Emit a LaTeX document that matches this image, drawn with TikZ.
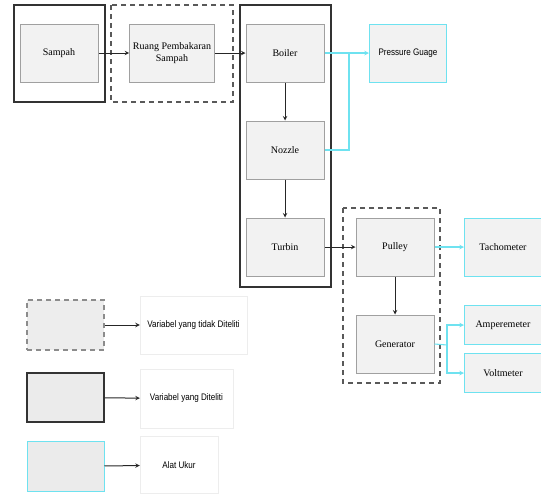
\documentclass[tikz,border=0pt]{standalone}
\usepackage{fontspec}
\setmainfont{Liberation Serif}
\newfontfamily\ketfont[FakeStretch=0.85]{Liberation Sans}
\usetikzlibrary{shapes.geometric, arrows}
\definecolor{ukur}{RGB}{110,226,240}
\definecolor{garis}{RGB}{160,160,160}
\definecolor{isi}{RGB}{242,242,242}
\tikzstyle{proses} = [rectangle, minimum width=78pt, minimum height=58pt, text centered, draw=garis, fill=isi, line width=1pt, font=\fontsize{10}{12}\selectfont]
\tikzstyle{alat} = [rectangle, minimum width=77pt, text centered, draw=ukur, fill=isi, line width=1pt, font=\fontsize{10}{12}\selectfont]
\tikzstyle{diteliti} = [draw=black!80, line width=1.6pt]
\tikzstyle{tidak} = [draw=black!65, line width=1.4pt, dash pattern=on 5pt off 4pt]
\tikzstyle{ket} = [rectangle, draw=black!7, text centered, font=\ketfont\fontsize{9.5}{11}\selectfont]
\tikzstyle{arrow} = [line width=1pt,->,>=stealth, black!85]
\tikzstyle{ukurarrow} = [line width=1.1pt,->,>=stealth, ukur]
\tikzstyle{ukurline} = [line width=1.1pt, ukur]

\begin{document}
\begin{tikzpicture}[x=1pt, y=-1pt, node distance=113pt]
		\useasboundingbox (0,0) rectangle (541,493);
		% kotak luar
		\draw [diteliti] (14,5) rectangle (105,102);
		\draw [tidak] (111,5) rectangle (233,102);
		\draw [diteliti] (240,5) rectangle (331,287);
		\draw [tidak] (343,208) rectangle (440,383);

		\node (sampah) [proses] at (59,53) {Sampah};
		\node (ruang) [proses, right of=sampah, align=center] {Ruang Pembakaran\\Sampah};
		\node (boiler) [proses, right of=ruang] {Boiler};
		\node (nozzle) [proses, below of=boiler, node distance=97pt] {Nozzle};
		\node (turbin) [proses, below of=nozzle, node distance=97pt] {Turbin};
		\node (pulley) [proses, right of=turbin, node distance=110pt] {Pulley};
		\node (generator) [proses, below of=pulley, node distance=97pt] {Generator};

		\node (pressure) [alat, minimum height=58pt, right of=boiler, node distance=123pt, font=\ketfont\fontsize{9.5}{11}\selectfont] {Pressure Guage};
		\node (tacho) [alat, minimum height=58pt, right of=pulley, node distance=108pt] {Tachometer};
		\node (amper) [alat, minimum height=39pt] at (503,325) {Amperemeter};
		\node (volt) [alat, minimum height=39pt] at (503,373) {Voltmeter};

		\coordinate (jp) at (349,53);
		\coordinate (jg) at (447,345);

		\draw [arrow] (sampah) -- (ruang);
		\draw [arrow] (ruang) -- (boiler);
		\draw [arrow] (boiler) -- (nozzle);
		\draw [arrow] (nozzle) -- (turbin);
		\draw [arrow] (turbin) -- (pulley);
		\draw [arrow] (pulley) -- (generator);

		\draw [ukurarrow] (boiler) -- (pressure);
		\draw [ukurline] (nozzle.east) -| (jp);
		\draw [ukurarrow] (pulley) -- (tacho);
		\draw [ukurline] (generator.east) -- (jg);
		\draw [ukurarrow] (jg) |- (amper);
		\draw [ukurarrow] (jg) |- (volt);

		% keterangan
		\node (leg1) [rectangle, minimum width=77pt, minimum height=50pt, fill=black!7, tidak, draw=black!45] at (65.5,325) {};
		\node (leg2) [rectangle, minimum width=77pt, minimum height=49pt, fill=black!8, diteliti] at (65.5,397.5) {};
		\node (leg3) [rectangle, minimum width=77pt, minimum height=50pt, fill=black!8, draw=ukur, line width=1pt] at (65.5,466.5) {};

		\node (ket1) [ket, minimum width=107pt, minimum height=58pt] at (193.5,325) {Variabel yang tidak Diteliti};
		\node (ket2) [ket, minimum width=93pt, minimum height=59pt] at (186.5,398.5) {Variabel yang Diteliti};
		\node (ket3) [ket, minimum width=78pt, minimum height=57pt] at (179,465) {Alat Ukur};

		\draw [arrow] (leg1) -- (ket1);
		\draw [arrow] (leg2) -- (ket2);
		\draw [arrow] (leg3) -- (ket3);
\end{tikzpicture}
\end{document}
